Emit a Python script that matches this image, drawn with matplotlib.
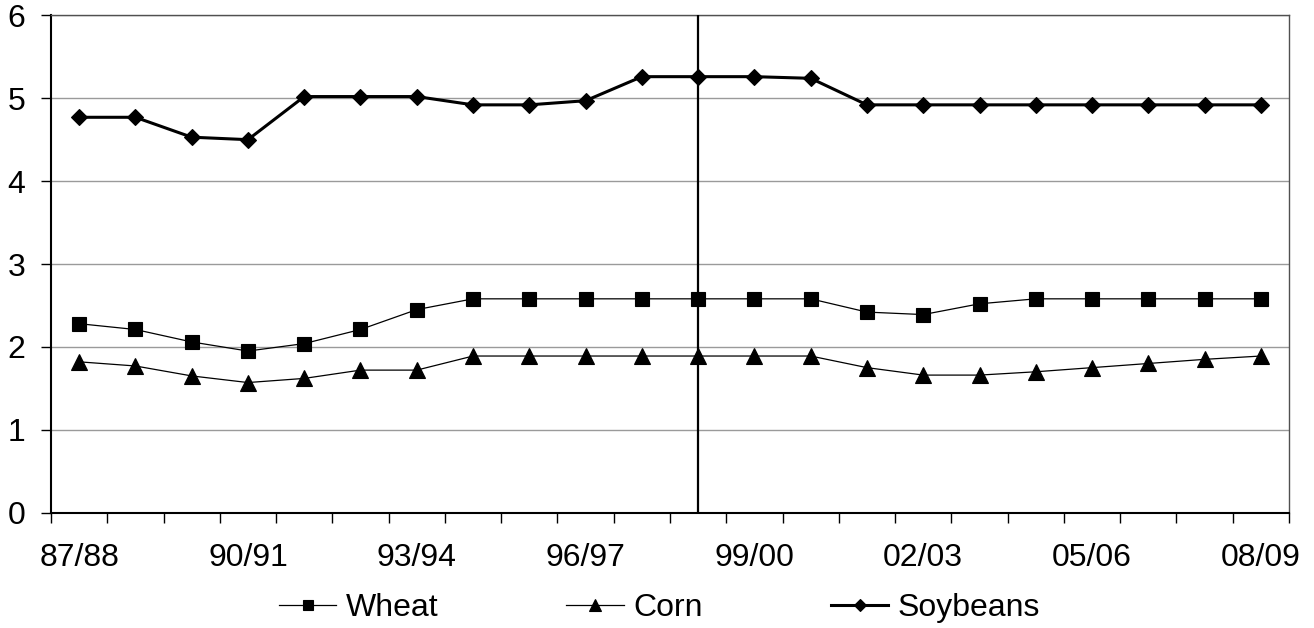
import matplotlib
matplotlib.use("Agg")
import matplotlib.pyplot as plt
import numpy as np

plt.rcParams["font.family"] = ["Liberation Sans", "DejaVu Sans"]

seasons = ["87/88", "88/89", "89/90", "90/91", "91/92", "92/93", "93/94",
           "94/95", "95/96", "96/97", "97/98", "98/99", "99/00", "00/01",
           "01/02", "02/03", "03/04", "04/05", "05/06", "06/07", "07/08",
           "08/09"]

wheat = [2.28, 2.21, 2.06, 1.95, 2.04, 2.21, 2.45, 2.58, 2.58, 2.58, 2.58,
         2.58, 2.58, 2.58, 2.42, 2.39, 2.52, 2.58, 2.58, 2.58, 2.58, 2.58]
corn = [1.82, 1.77, 1.65, 1.57, 1.62, 1.72, 1.72, 1.89, 1.89, 1.89, 1.89,
        1.89, 1.89, 1.89, 1.75, 1.66, 1.66, 1.70, 1.75, 1.80, 1.85, 1.89]
soybeans = [4.77, 4.77, 4.53, 4.50, 5.02, 5.02, 5.02, 4.92, 4.92, 4.97, 5.26,
            5.26, 5.26, 5.24, 4.92, 4.92, 4.92, 4.92, 4.92, 4.92, 4.92, 4.92]

marker_season = "98/99"
label_every = 3
y_ticks = [0, 1, 2, 3, 4, 5, 6]

fig = plt.figure(figsize=(13.14, 6.28), dpi=100)
ax = fig.add_axes([0.0388, 0.1836, 0.9422, 0.792])

x = np.arange(len(seasons))

ax.plot(x, wheat, color="black", lw=0.9, marker="s", ms=10, mew=0.8,
        mfc="black", mec="black", label="Wheat", zorder=3)
ax.plot(x, corn, color="black", lw=0.9, marker="^", ms=11, mew=0.8,
        mfc="black", mec="black", label="Corn", zorder=3)
ax.plot(x, soybeans, color="black", lw=2.2, marker="D", ms=8.3, mew=0.8,
        mfc="black", mec="black", label="Soybeans", zorder=3)

ax.axvline(seasons.index(marker_season), color="black", lw=1.6, zorder=4)

ax.set_xlim(-0.5, len(seasons) - 0.5)
ax.set_ylim(0, 6)
ax.set_yticks(y_ticks)
ax.yaxis.grid(True, color="#9a9a9a", lw=1.0)
ax.set_axisbelow(True)

# Category boundary ticks, with labels every third season
ax.set_xticks(np.arange(len(seasons) + 1) - 0.5)
ax.set_xticklabels([])
ax.set_xticks(x[::label_every], minor=True)
ax.set_xticklabels(seasons[::label_every], minor=True)
ax.tick_params(axis="x", which="major", length=7.5, width=1.0, direction="out")
ax.tick_params(axis="x", which="minor", length=0, pad=22, labelsize=23)
ax.tick_params(axis="y", length=7.5, width=1.0, direction="out", pad=11,
               labelsize=23)

for side in ("left", "bottom"):
    ax.spines[side].set_linewidth(1.5)
    ax.spines[side].set_color("black")
for side in ("top", "right"):
    ax.spines[side].set_linewidth(1.0)
    ax.spines[side].set_color("#505050")

ax.legend(loc="center", bbox_to_anchor=(0.502, 0.032),
          bbox_transform=fig.transFigure, ncol=3, frameon=False,
          fontsize=23, handlelength=1.8, handletextpad=0.3,
          columnspacing=4.0, borderpad=0, markerscale=0.75)

fig.savefig("out.png", dpi=100)
